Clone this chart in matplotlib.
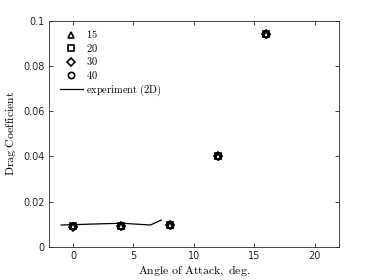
import numpy as np
import matplotlib
matplotlib.use("Agg")
import matplotlib.pyplot as plt

plt.rcParams['mathtext.fontset'] = 'cm'

# simulation results, angle of attack [deg] vs drag coefficient
alpha = [0, 4, 8, 12, 16]
cd_15 = [0.0090, 0.0092, 0.0096, 0.0402, 0.0943]
cd_20 = [0.0090, 0.0092, 0.0096, 0.0400, 0.0942]
cd_30 = [0.0089, 0.0091, 0.0095, 0.0401, 0.0941]
cd_40 = [0.0090, 0.0092, 0.0096, 0.0400, 0.0942]
labels = ['15', '20', '30', '40']
markers = ['^', 's', 'D', 'o']

# experiment (2D)
alpha_exp = [-1.0, 4.0, 6.4, 7.3]
cd_exp = [0.0096, 0.0104, 0.0096, 0.0118]

fig = plt.figure(figsize=(3.74, 2.8), dpi=100)
ax = fig.add_axes([0.131, 0.119, 0.7746, 0.806])

for cd, lab, m in zip([cd_15, cd_20, cd_30, cd_40], labels, markers):
    ax.plot(alpha, cd, linestyle='none', marker=m, markersize=4.5 if m != 'D' else 3.8,
            markerfacecolor='none', markeredgecolor='black', markeredgewidth=1.2,
            label=r'$\mathrm{' + lab + '}$')
ax.plot(alpha_exp, cd_exp, color='black', linewidth=0.9,
        label=r'$\mathrm{experiment\ (2D)}$')

ax.set_xlim(-2, 22)
ax.set_ylim(0, 0.1)
ax.set_xticks([0, 5, 10, 15, 20])
ax.set_yticks([0, 0.02, 0.04, 0.06, 0.08, 0.1])
ax.set_yticklabels(['0', '0.02', '0.04', '0.06', '0.08', '0.1'])
ax.tick_params(direction='in', top=True, right=True, labelsize=7, length=3,
               width=0.6, colors='#262626', pad=3)
for s in ax.spines.values():
    s.set_linewidth(0.6)
    s.set_color('#262626')

ax.set_xlabel(r'$\mathrm{Angle\ of\ Attack,\ deg.}$', fontsize=8.5, labelpad=2)
ax.set_ylabel(r'$\mathrm{Drag\ Coefficient}$', fontsize=8.5, labelpad=4)

leg = ax.legend(loc='upper left', frameon=False, fontsize=7.5, handlelength=2.2,
                handletextpad=0.3, labelspacing=0.15, borderaxespad=0.3,
                bbox_to_anchor=(0.012, 1.0))

fig.savefig('out.png', dpi=100)
